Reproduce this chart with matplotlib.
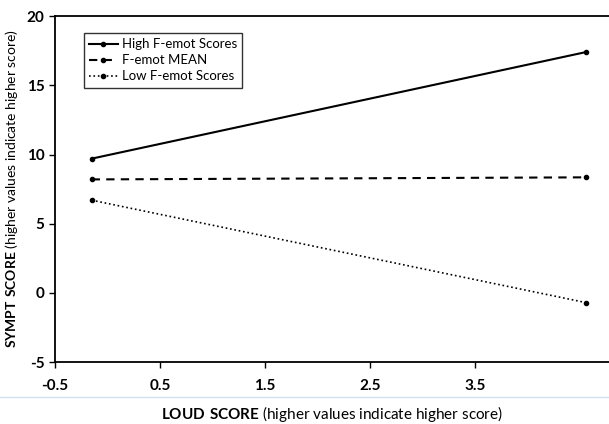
import numpy as np
import matplotlib
matplotlib.use("Agg")
import matplotlib.pyplot as plt

plt.rcParams['font.family'] = ['Lato', 'DejaVu Sans']
plt.rcParams['mathtext.fontset'] = 'custom'
plt.rcParams['mathtext.rm'] = 'Lato'
plt.rcParams['mathtext.bf'] = 'Lato:bold'
plt.rcParams['axes.unicode_minus'] = False

# loud score at low / high end
loud_x = [-0.15, 4.55]
high_femot = [9.7, 17.4]
mean_femot = [8.2, 8.35]
low_femot = [6.7, -0.7]
series_names = ['High F-emot Scores', 'F-emot MEAN', 'Low F-emot Scores']

xticks = [-0.5, 0.5, 1.5, 2.5, 3.5]
yticks = [-5, 0, 5, 10, 15, 20]

fig = plt.figure(figsize=(6.09, 4.24), dpi=100)
ax = fig.add_axes([0.09, 0.146, 0.91, 0.816])

ax.plot(loud_x, high_femot, '-', color='black', lw=1.5, marker='o', ms=3, label=series_names[0])
ax.plot(loud_x, mean_femot, '--', color='black', lw=1.5, marker='o', ms=3,
        dashes=(4, 3), label=series_names[1])
ax.plot(loud_x, low_femot, ':', color='black', lw=1.2, marker='o', ms=3, label=series_names[2])

ax.set_xlim(-0.5, 4.77)
ax.set_ylim(-5, 20)
ax.set_xticks(xticks)
ax.set_xticklabels(['-0.5', '0.5', '1.5', '2.5', '3.5'])
ax.set_yticks(yticks)
ax.tick_params(labelsize=11, width=1, length=4, direction='out')
ax.tick_params(axis='x', pad=8)
for lab in ax.get_xticklabels() + ax.get_yticklabels():
    lab.set_fontweight('bold')

ax.spines['right'].set_visible(False)
for s in ['left', 'bottom', 'top']:
    ax.spines[s].set_linewidth(1.3)

ax.set_xlabel(r'$\bf{LOUD\ SCORE}$ (higher values indicate higher score)', fontsize=11, labelpad=8)
ax.set_ylabel(r'$\bf{SYMPT\ SCORE}$ (higher values indicate higher score)', fontsize=10)
ax.yaxis.set_label_coords(-0.062, 0.5)

leg = ax.legend(loc='upper left', bbox_to_anchor=(0.04, 0.97), fontsize=9.5, frameon=True,
                fancybox=False, edgecolor='black', handlelength=2.2, handletextpad=0.3,
                borderpad=0.4, labelspacing=0.3)
leg.get_frame().set_linewidth(1.0)

# faint scan line under the axis
fig.add_artist(plt.Line2D([0, 1], [0.063, 0.063], color='#cfe0f0', lw=1))

fig.savefig('out.png', dpi=100)
